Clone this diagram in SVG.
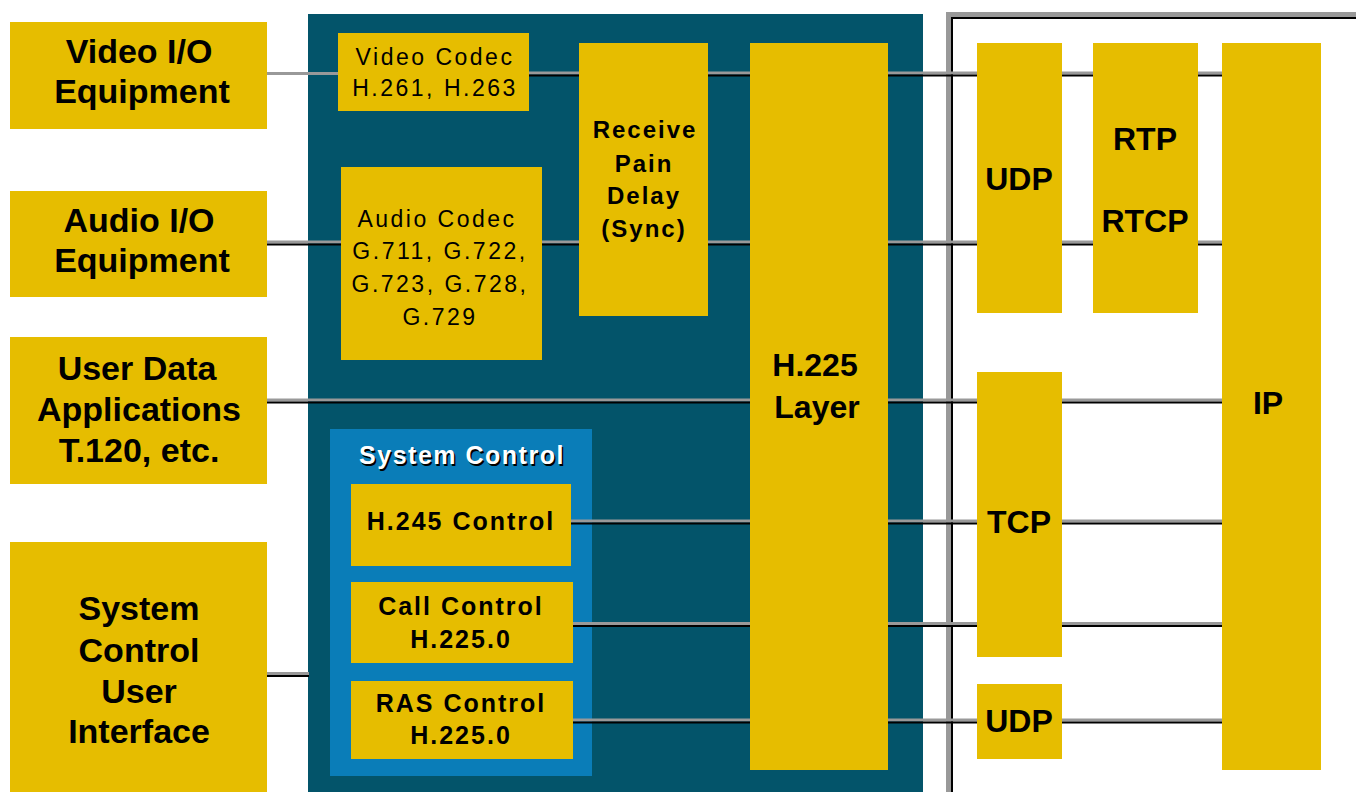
<svg xmlns="http://www.w3.org/2000/svg" width="1356" height="792" viewBox="0 0 1356 792">
<style>
.y{fill:#E6BD00}
.b{font-family:"Liberation Sans",Arial,sans-serif;font-weight:bold;fill:#000;text-anchor:middle}
.big{font-size:34px}
.mid{font-size:32px}
.sm{font-size:25px;letter-spacing:2px}
.rg{font-family:"Liberation Sans",Arial,sans-serif;font-size:23px;letter-spacing:2.5px;fill:#000;text-anchor:middle}
.g{stroke:#999;stroke-width:3;fill:none}
.k{stroke:#000;stroke-width:2;fill:none}
</style>
<rect width="1356" height="792" fill="#fff"/>
<g id="stack-panel">
<rect x="308" y="14" width="615" height="778" fill="#03546A"/>
</g>
<g id="network-frame">
<path d="M948.5 792 V14.5 H1356" stroke="#999" stroke-width="5" fill="none"/>
<path d="M952 792 V18 H1356" stroke="#000" stroke-width="2" fill="none"/>
</g>
<g id="system-control">
<rect x="330" y="429" width="262" height="347" fill="#0A7DB8"/>
<text x="462" y="464" font-family="Liberation Sans,Arial,sans-serif" font-weight="bold" font-size="25" letter-spacing="1.5" text-anchor="middle" fill="#000" transform="translate(1.5,1.5)">System Control</text>
<text x="462" y="464" font-family="Liberation Sans,Arial,sans-serif" font-weight="bold" font-size="25" letter-spacing="1.5" text-anchor="middle" fill="#fff">System Control</text>
</g>
<g id="connectors">
<line class="g" x1="267" y1="73.5" x2="338" y2="73.5" stroke-width="4"/>
<line class="g" x1="528" y1="73" x2="1222" y2="73"/><line class="k" x1="528" y1="75.5" x2="1222" y2="75.5"/>
<line class="g" x1="267" y1="242" x2="1222" y2="242"/><line class="k" x1="267" y1="244.5" x2="1222" y2="244.5"/>
<line class="g" x1="267" y1="400" x2="1222" y2="400"/><line class="k" x1="267" y1="402.5" x2="1222" y2="402.5"/>
<line class="g" x1="570" y1="521" x2="1222" y2="521"/><line class="k" x1="570" y1="523.5" x2="1222" y2="523.5"/>
<line class="g" x1="572" y1="623.5" x2="1222" y2="623.5"/><line class="k" x1="572" y1="626" x2="1222" y2="626"/>
<line class="g" x1="572" y1="720" x2="1222" y2="720"/><line class="k" x1="572" y1="722.5" x2="1222" y2="722.5"/>
<line class="g" x1="267" y1="673.5" x2="309" y2="673.5"/><line class="k" x1="267" y1="676" x2="309" y2="676"/>
</g>
<g id="video-io">
<rect class="y" x="10" y="22" width="257" height="107"/>
<text class="b big" x="139" y="63">Video I/O</text>
<text class="b big" x="142" y="103">Equipment</text>
</g>
<g id="audio-io">
<rect class="y" x="10" y="191" width="257" height="106"/>
<text class="b big" x="139" y="232">Audio I/O</text>
<text class="b big" x="142" y="272">Equipment</text>
</g>
<g id="user-data">
<rect class="y" x="10" y="337" width="257" height="147"/>
<text class="b big" x="137" y="380">User Data</text>
<text class="b big" x="139" y="421">Applications</text>
<text class="b big" x="139" y="462">T.120, etc.</text>
</g>
<g id="system-control-ui">
<rect class="y" x="10" y="542" width="257" height="250"/>
<text class="b big" x="139" y="620">System</text>
<text class="b big" x="139" y="662">Control</text>
<text class="b big" x="139" y="703">User</text>
<text class="b big" x="139" y="743">Interface</text>
</g>
<g id="video-codec">
<rect class="y" x="338" y="33" width="191" height="78"/>
<text class="rg" x="435" y="65">Video Codec</text>
<text class="rg" x="435" y="96">H.261, H.263</text>
</g>
<g id="audio-codec">
<rect class="y" x="341" y="167" width="201" height="193"/>
<text class="rg" x="437" y="227">Audio Codec</text>
<text class="rg" x="440" y="259">G.711, G.722,</text>
<text class="rg" x="440" y="292">G.723, G.728,</text>
<text class="rg" x="440" y="325">G.729</text>
</g>
<g id="receive-path-delay">
<rect class="y" x="579" y="43" width="129" height="273"/>
<text class="b" x="645" y="138" font-size="24" letter-spacing="2">Receive</text>
<text class="b" x="644" y="172" font-size="24" letter-spacing="2">Pain</text>
<text class="b" x="644" y="204" font-size="24" letter-spacing="2">Delay</text>
<text class="b" x="644" y="237" font-size="24" letter-spacing="2">(Sync)</text>
</g>
<g id="h225-layer">
<rect class="y" x="750" y="43" width="138" height="727"/>
<text class="b mid" x="815" y="376">H.225</text>
<text class="b mid" x="817" y="418">Layer</text>
</g>
<g id="h245-control">
<rect class="y" x="351" y="484" width="220" height="82"/>
<text class="b sm" x="461" y="530">H.245 Control</text>
</g>
<g id="call-control">
<rect class="y" x="351" y="582" width="222" height="81"/>
<text class="b sm" x="461" y="615">Call Control</text>
<text class="b sm" x="461" y="648">H.225.0</text>
</g>
<g id="ras-control">
<rect class="y" x="351" y="681" width="222" height="78"/>
<text class="b sm" x="461" y="712">RAS Control</text>
<text class="b sm" x="461" y="744">H.225.0</text>
</g>
<g id="udp-media">
<rect class="y" x="977" y="43" width="85" height="270"/>
<text class="b mid" x="1019" y="190">UDP</text>
</g>
<g id="rtp-rtcp">
<rect class="y" x="1093" y="43" width="105" height="270"/>
<text class="b mid" x="1145" y="150">RTP</text>
<text class="b mid" x="1145" y="232">RTCP</text>
</g>
<g id="tcp">
<rect class="y" x="977" y="372" width="85" height="285"/>
<text class="b mid" x="1019" y="533">TCP</text>
</g>
<g id="udp-ras">
<rect class="y" x="977" y="684" width="85" height="75"/>
<text class="b mid" x="1019" y="732">UDP</text>
</g>
<g id="ip">
<rect class="y" x="1222" y="43" width="99" height="727"/>
<text class="b mid" x="1268" y="414">IP</text>
</g>
</svg>
